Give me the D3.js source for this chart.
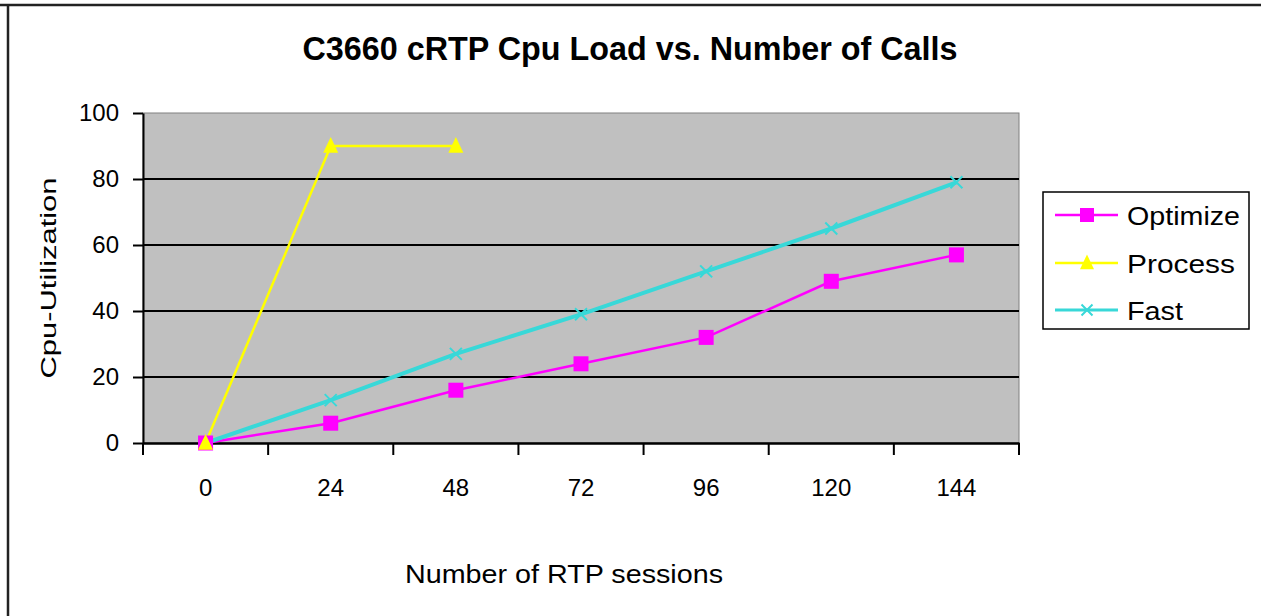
<!DOCTYPE html>
<html>
<head>
<meta charset="utf-8">
<script src="https://cdn.jsdelivr.net/npm/d3@7"></script>
<style>
html,body{margin:0;padding:0;background:#fff;}
svg{display:block;}
text{font-family:"Liberation Sans",Arial,sans-serif;fill:#000;}
</style>
</head>
<body>
<svg id="chart" width="1261" height="616"></svg>
<script>
const title = "C3660 cRTP Cpu Load vs. Number of Calls";
const xTitle = "Number of RTP sessions";
const yTitle = "Cpu-Utilization";
const categories = ["0","24","48","72","96","120","144"];
const yTicks = [0,20,40,60,80,100];
const optimize = [0,6,16,24,32,49,57];
const processV = [0,90,90];
const fast = [0,13,27,39,52,65,79];
const seriesNames = ["Optimize","Process","Fast"];

const svg = d3.select("#chart");
const L = 143, R = 1019, T = 113, B = 443;
const x = d3.scaleBand().domain(categories).range([L, R]).padding(0);
const y = d3.scaleLinear().domain([0,100]).range([B, T]);
const cx = d => x(d) + x.bandwidth()/2;
const FONT = "Liberation Sans, Arial, sans-serif";

// outer border (top and left)
svg.append("line").attr("x1",0).attr("x2",1261).attr("y1",5).attr("y2",5).attr("stroke","#222").attr("stroke-width",2.5);
svg.append("line").attr("x1",8).attr("x2",8).attr("y1",5).attr("y2",616).attr("stroke","#222").attr("stroke-width",2.5);

// plot area
svg.append("rect").attr("x",L).attr("y",T).attr("width",R-L).attr("height",B-T)
  .attr("fill","#C0C0C0").attr("stroke","#808080").attr("stroke-width",1);

// gridlines
svg.append("g").selectAll("line").data(yTicks.filter(v=>v>0 && v<100)).join("line")
  .attr("x1",L).attr("x2",R).attr("y1",d=>y(d)).attr("y2",d=>y(d))
  .attr("stroke","#000").attr("stroke-width",2);

// y axis
const yAxis = svg.append("g").attr("transform",`translate(${L},0)`)
  .call(d3.axisLeft(y).tickValues(yTicks).tickSize(10).tickPadding(14).tickSizeOuter(0));
yAxis.select(".domain").attr("stroke","#000").attr("stroke-width",2);
yAxis.selectAll(".tick line").attr("stroke","#000").attr("stroke-width",2);
yAxis.selectAll(".tick text").attr("font-size",24).attr("font-family",FONT).attr("fill","#000");

// x axis
const xAxis = svg.append("g").attr("transform",`translate(0,${B})`)
  .call(d3.axisBottom(x).tickSize(0).tickPadding(36).tickSizeOuter(0));
xAxis.select(".domain").attr("stroke","#000").attr("stroke-width",2.5);
xAxis.selectAll(".tick text").attr("font-size",24).attr("font-family",FONT).attr("fill","#000");
// boundary tick marks
const bounds = d3.range(categories.length+1).map(i => x.range()[0] + i*x.step());
svg.append("g").selectAll("line").data(bounds).join("line")
  .attr("x1",d=>d).attr("x2",d=>d).attr("y1",B).attr("y2",B+12)
  .attr("stroke","#000").attr("stroke-width",2);

// series
const line = d3.line().x((d,i)=>cx(categories[i])).y(d=>y(d));
const colors = {Optimize:"#FF00FF", Process:"#FFFF00", Fast:"#38D8D8"};

svg.append("path").datum(optimize).attr("d",line).attr("fill","none").attr("stroke",colors.Optimize).attr("stroke-width",2.5);
svg.append("path").datum(fast).attr("d",line).attr("fill","none").attr("stroke",colors.Fast).attr("stroke-width",4);
svg.append("path").datum(processV).attr("d",line).attr("fill","none").attr("stroke",colors.Process).attr("stroke-width",2.5);

function square(g, px, py, s){ g.append("rect").attr("x",px-s/2).attr("y",py-s/2).attr("width",s).attr("height",s).attr("fill",colors.Optimize); }
function tri(g, px, py, s){ g.append("path").attr("d",`M${px},${py-s*0.6}L${px+s/2},${py+s*0.45}L${px-s/2},${py+s*0.45}Z`).attr("fill",colors.Process); }
function xmark(g, px, py, s){ g.append("path").attr("d",`M${px-s/2},${py-s/2}L${px+s/2},${py+s/2}M${px-s/2},${py+s/2}L${px+s/2},${py-s/2}`).attr("stroke",colors.Fast).attr("stroke-width",2).attr("fill","none"); }

const mg = svg.append("g");
fast.forEach((v,i)=>xmark(mg, cx(categories[i]), y(v), 12));
optimize.forEach((v,i)=>square(mg, cx(categories[i]), y(v), 15));
processV.forEach((v,i)=>tri(mg, cx(categories[i]), y(v), 15));

// title
svg.append("text").attr("x",630).attr("y",60).attr("text-anchor","middle")
  .attr("font-size",34).attr("font-weight","bold").attr("textLength",655).attr("lengthAdjust","spacingAndGlyphs").text(title);
// axis titles
svg.append("text").attr("x",564).attr("y",583).attr("text-anchor","middle")
  .attr("font-size",25).attr("textLength",318).attr("lengthAdjust","spacingAndGlyphs").text(xTitle);
svg.append("text").attr("transform","translate(56,278) rotate(-90)").attr("text-anchor","middle")
  .attr("font-size",22).attr("textLength",201).attr("lengthAdjust","spacingAndGlyphs").text(yTitle);

// legend
const lg = svg.append("g");
lg.append("rect").attr("x",1043).attr("y",192).attr("width",206).attr("height",137)
  .attr("fill","#fff").attr("stroke","#000").attr("stroke-width",1.5);
const ly = [215,263,310];
const lw = [113,108,56];
seriesNames.forEach((n,i)=>{
  lg.append("line").attr("x1",1055).attr("x2",1118).attr("y1",ly[i]).attr("y2",ly[i])
    .attr("stroke",colors[n]).attr("stroke-width", n==="Fast"?3:2.5);
  if(n==="Optimize") square(lg,1087,ly[i],14);
  if(n==="Process") tri(lg,1087,ly[i],14);
  if(n==="Fast") xmark(lg,1087,ly[i],11);
  lg.append("text").attr("x",1127).attr("y",ly[i]+9.5).attr("font-size",26)
    .attr("textLength",lw[i]).attr("lengthAdjust","spacingAndGlyphs").text(n);
});
</script>
</body>
</html>
